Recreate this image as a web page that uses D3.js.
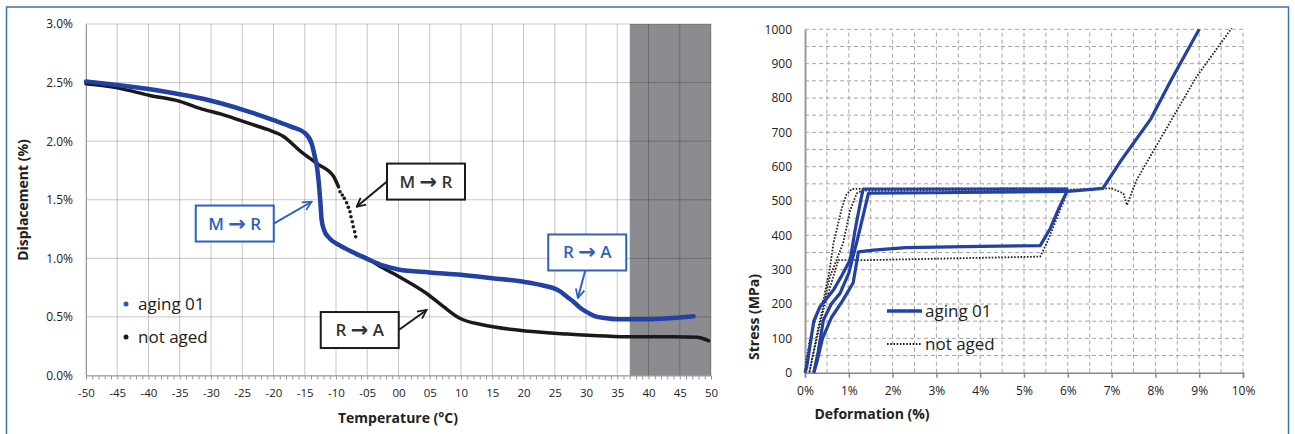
<!DOCTYPE html>
<html>
<head>
<meta charset="utf-8">
<script src="https://cdn.jsdelivr.net/npm/d3@7"></script>
<style>
    body { margin: 0; background: #fff; }
    svg { display: block; font-family: 'Open Sans', sans-serif; }
</style>
</head>
<body>
<div id="chart"></div>
<script>
// ---- left panel: displacement vs temperature ----
const tempTicks = d3.range(-50, 51, 5);
const tempMinorTicks = d3.range(-50, 51, 1);
const displacementTicks = [0, 0.5, 1, 1.5, 2, 2.5, 3];
const shadedRange = [37, 50];

// [temperature °C, displacement %]
const aging01Displacement = [
    [-50, 2.51], [-45, 2.48], [-40, 2.445], [-35, 2.4], [-30, 2.345], [-25, 2.27],
    [-20, 2.18], [-17, 2.12], [-15, 2.07], [-13.9, 1.98], [-13.4, 1.87], [-13.1, 1.8],
    [-12.8, 1.67], [-12.5, 1.48], [-12.3, 1.33], [-11.9, 1.24], [-11.2, 1.18], [-9.4, 1.11],
    [-7.2, 1.05], [-4.6, 0.985], [-2.4, 0.937], [0, 0.905], [5, 0.88], [10, 0.86],
    [15, 0.83], [20, 0.8], [23, 0.77], [25.8, 0.72], [27, 0.67], [28, 0.63], [29, 0.58],
    [30, 0.545], [31.5, 0.505], [33, 0.49], [35, 0.48], [38, 0.48], [42, 0.485],
    [45, 0.495], [47.2, 0.505]
];
const notAgedDisplacement = [
    [-50, 2.49], [-45, 2.455], [-39.8, 2.39], [-35, 2.34], [-31.8, 2.28], [-28, 2.225],
    [-23.8, 2.15], [-21, 2.1], [-18.4, 2.04], [-15.8, 1.92], [-13.1, 1.81], [-10.4, 1.7],
    [-9.6, 1.61]
];
const notAgedSparse = [
    [-9.36, 1.568], [-9.0, 1.54], [-8.67, 1.512], [-8.3, 1.474], [-8.03, 1.435],
    [-7.76, 1.398], [-7.6, 1.355], [-7.39, 1.312], [-7.23, 1.27], [-7.01, 1.227], [-6.85, 1.184]
];
const notAgedDisplacementHigh = [
    [-6.7, 1.03], [-6.2, 1.025], [-2.4, 0.915], [0.2, 0.84], [4.5, 0.7], [7.2, 0.587],
    [9.8, 0.488], [13.6, 0.431], [19, 0.388], [27, 0.354], [37.6, 0.33], [44, 0.33],
    [47.8, 0.326], [49.6, 0.297]
];

const transitions = [
    { from: 'M', to: 'R', blue: true, box: [-26.2, 1.297], tip: [-13.9, 1.483], side: 'right' },
    { from: 'M', to: 'R', blue: false, box: [4.4, 1.655], tip: [-6.7, 1.44], side: 'left' },
    { from: 'R', to: 'A', blue: false, box: [-6.2, 0.388], tip: [4.5, 0.559], side: 'right' },
    { from: 'R', to: 'A', blue: true, box: [30.2, 1.05], tip: [28.7, 0.661], side: 'bottom' }
];

// ---- right panel: stress vs deformation ----
const strainTicks = d3.range(0, 11, 1);
const strainGrid = d3.range(0.5, 10.01, 0.5);
const stressTicks = d3.range(0, 1001, 100);
const stressGrid = d3.range(50, 1001, 50);

// [deformation %, stress MPa]
const aging01Load = [
    [0, 0], [0.04, 17], [0.2, 150], [0.34, 192], [0.65, 241], [0.85, 285], [1.03, 328],
    [1.15, 420], [1.29, 513], [1.33, 535], [6.0, 535]
];
const aging01Unload = [
    [6.0, 533], [5.8, 480], [5.6, 420], [5.37, 370], [4, 368], [2.3, 364], [1.56, 357],
    [1.22, 352], [1.1, 262], [0.87, 212], [0.6, 160], [0.4, 100], [0.27, 30], [0.2, 0]
];
const aging01Reload = [
    [0.2, 0], [0.3, 60], [0.42, 153], [0.6, 200], [0.8, 231], [1.0, 290], [1.2, 390],
    [1.45, 523], [3, 524], [6.0, 528], [6.8, 537], [7.2, 615], [7.9, 740], [8.35, 850], [9.0, 1000]
];
const notAgedLoad = [
    [0, 0], [0.02, 30], [0.11, 95], [0.25, 160], [0.42, 212], [0.55, 290], [0.65, 377],
    [0.84, 479], [0.95, 520], [1.07, 535], [6.0, 537]
];
const notAgedUnload = [
    [6.0, 530], [5.52, 377], [5.37, 338], [3, 332], [1.5, 328], [0.76, 328], [0.6, 260],
    [0.42, 183], [0.2, 60], [0.11, 8], [0.1, 0]
];
const notAgedReload = [
    [0.1, 0], [0.3, 130], [0.57, 280], [0.87, 377], [1.03, 473], [1.18, 522], [1.3, 530],
    [6, 533], [7.0, 537], [7.27, 522], [7.35, 488], [7.57, 561], [8.1, 678], [8.94, 862], [9.74, 1003]
];

const BLUE = '#2241a3';
const LABEL_BLUE = '#2c62bd';

function layout() {
    const svg = d3.select('#chart')
        .append('svg')
        .attr('width', 1295)
        .attr('height', 434);

    svg.append('rect')
        .attr('width', 1295)
        .attr('height', 434)
        .attr('fill', '#fff');

    //frame
    svg.append('rect')
        .attr('x', 6.5)
        .attr('y', 7)
        .attr('width', 1282)
        .attr('height', 440)
        .attr('fill', 'none')
        .attr('stroke', '#3a74b0')
        .attr('stroke-width', 1.5);

    return svg;
}

function drawLeft(svg) {
    const box = { left: 86, right: 711, top: 24, bottom: 375.5 };
    const x = d3.scaleLinear().domain([-50, 50]).range([box.left, box.right]);
    const y = d3.scaleLinear().domain([0, 3]).range([box.bottom, box.top]);
    const g = svg.append('g');

    //shaded zone
    g.append('rect')
        .attr('x', x(shadedRange[0]))
        .attr('y', y(3))
        .attr('width', x(shadedRange[1]) - x(shadedRange[0]))
        .attr('height', y(0) - y(3))
        .attr('fill', '#8c8c90');

    //grid lines
    g.append('g')
        .selectAll('line')
        .data(tempTicks)
        .join('line')
        .attr('x1', d => x(d)).attr('x2', d => x(d))
        .attr('y1', y(0)).attr('y2', y(3))
        .attr('stroke', '#000').attr('stroke-opacity', 0.22);
    g.append('g')
        .selectAll('line')
        .data(displacementTicks)
        .join('line')
        .attr('x1', x(-50)).attr('x2', x(50))
        .attr('y1', d => y(d)).attr('y2', d => y(d))
        .attr('stroke', '#000').attr('stroke-opacity', 0.22);

    //axes
    const minor = g.append('g')
        .attr('transform', `translate(0,${box.bottom})`)
        .call(d3.axisBottom(x).tickValues(tempMinorTicks).tickSize(4).tickFormat(''));
    minor.selectAll('line, path').attr('stroke', '#999');

    const xAxis = g.append('g')
        .attr('transform', `translate(0,${box.bottom})`)
        .call(d3.axisBottom(x).tickValues(tempTicks).tickSize(0).tickPadding(13)
            .tickFormat(d => (d < 0 ? '-' : '') + String(Math.abs(d)).padStart(2, '0')));
    xAxis.select('.domain').remove();
    xAxis.selectAll('text').attr('font-size', 11.5).attr('fill', '#222')
        .attr('font-family', 'Open Sans');

    const yAxis = g.append('g')
        .attr('transform', `translate(${box.left},0)`)
        .call(d3.axisLeft(y).tickValues(displacementTicks).tickSize(0).tickPadding(13)
            .tickFormat(d => d.toFixed(1) + '%'));
    yAxis.select('.domain').attr('stroke', '#999');
    yAxis.selectAll('text').attr('font-size', 12).attr('fill', '#222')
        .attr('font-family', 'Open Sans');

    //labels
    g.append('text')
        .attr('x', 398).attr('y', 423)
        .attr('text-anchor', 'middle')
        .attr('font-size', 14).attr('font-weight', 'bold').attr('fill', '#222')
        .text('Temperature (°C)');
    g.append('text')
        .attr('transform', 'rotate(-90)')
        .attr('x', -200).attr('y', 28)
        .attr('text-anchor', 'middle')
        .attr('font-size', 14).attr('font-weight', 'bold').attr('fill', '#222')
        .text('Displacement (%)');

    //series
    const line = d3.line()
        .x(d => x(d[0]))
        .y(d => y(d[1]))
        .curve(d3.curveMonotoneX);

    [notAgedDisplacement, notAgedDisplacementHigh].forEach(data => {
        g.append('path')
            .datum(data)
            .attr('d', line)
            .attr('fill', 'none')
            .attr('stroke', '#1a1a1a')
            .attr('stroke-width', 3.5)
            .attr('stroke-linecap', 'round');
    });
    g.append('g')
        .selectAll('circle')
        .data(notAgedSparse)
        .join('circle')
        .attr('cx', d => x(d[0]))
        .attr('cy', d => y(d[1]))
        .attr('r', 1.8)
        .attr('fill', '#1a1a1a');

    g.append('path')
        .datum(aging01Displacement)
        .attr('d', line)
        .attr('fill', 'none')
        .attr('stroke', BLUE)
        .attr('stroke-width', 4.5)
        .attr('stroke-linecap', 'round');

    //legend
    const legend = [
        { label: 'aging 01', color: '#2a55c0', y: 304 },
        { label: 'not aged', color: '#1a1a1a', y: 337 }
    ];
    legend.forEach(item => {
        g.append('circle')
            .attr('cx', 126).attr('cy', item.y).attr('r', 2.5)
            .attr('fill', item.color);
        g.append('text')
            .attr('x', 138).attr('y', item.y + 6)
            .attr('font-size', 17).attr('fill', '#222')
            .text(item.label);
    });

    //transition notes
    const defs = svg.append('defs');
    ['blue', 'black'].forEach(name => {
        defs.append('marker')
            .attr('id', `arrow-${name}`)
            .attr('viewBox', '0 0 10 10')
            .attr('refX', 9).attr('refY', 5)
            .attr('markerWidth', 11).attr('markerHeight', 11)
            .attr('markerUnits', 'userSpaceOnUse')
            .attr('orient', 'auto')
            .append('path')
            .attr('d', 'M1,1 L9,5 L1,9')
            .attr('fill', 'none')
            .attr('stroke', name === 'blue' ? LABEL_BLUE : '#1a1a1a')
            .attr('stroke-width', 1.6);
    });

    transitions.forEach(t => {
        const color = t.blue ? LABEL_BLUE : '#1a1a1a';
        const w = 78;
        const h = 36;
        const cx = x(t.box[0]);
        const cy = y(t.box[1]);
        const start = {
            right: [cx + w / 2, cy],
            left: [cx - w / 2, cy],
            bottom: [cx - 2, cy + h / 2]
        }[t.side];

        g.append('line')
            .attr('x1', start[0]).attr('y1', start[1])
            .attr('x2', x(t.tip[0])).attr('y2', y(t.tip[1]))
            .attr('stroke', color).attr('stroke-width', 2)
            .attr('marker-end', `url(#arrow-${t.blue ? 'blue' : 'black'})`);
        g.append('rect')
            .attr('x', cx - w / 2).attr('y', cy - h / 2)
            .attr('width', w).attr('height', h)
            .attr('fill', '#fff')
            .attr('stroke', color).attr('stroke-width', 2);
        const text = g.append('text')
            .attr('x', cx).attr('y', cy + 6)
            .attr('text-anchor', 'middle')
            .attr('font-size', 17).attr('font-weight', 600)
            .attr('fill', t.blue ? LABEL_BLUE : '#333');
        text.append('tspan').text(t.from + ' ');
        text.append('tspan')
            .attr('font-family', 'DejaVu Sans')
            .attr('font-weight', 'bold')
            .attr('font-size', 21)
            .attr('dy', 1)
            .text('→');
        text.append('tspan').attr('dy', -1).text(' ' + t.to);
    });
}

function drawRight(svg) {
    const box = { left: 805, right: 1243, top: 29.3, bottom: 372.7 };
    const x = d3.scaleLinear().domain([0, 10]).range([box.left, box.right]);
    const y = d3.scaleLinear().domain([0, 1000]).range([box.bottom, box.top]);
    const g = svg.append('g');

    //grid lines
    g.append('g')
        .selectAll('line')
        .data(strainGrid)
        .join('line')
        .attr('x1', d => x(d)).attr('x2', d => x(d))
        .attr('y1', y(0)).attr('y2', y(1000))
        .attr('stroke', '#a5a5a5').attr('stroke-dasharray', '4,3');
    g.append('g')
        .selectAll('line')
        .data(stressGrid)
        .join('line')
        .attr('x1', x(0)).attr('x2', x(10))
        .attr('y1', d => y(d)).attr('y2', d => y(d))
        .attr('stroke', '#a5a5a5').attr('stroke-dasharray', '4,3');

    //axes
    const xAxis = g.append('g')
        .attr('transform', `translate(0,${box.bottom})`)
        .call(d3.axisBottom(x).tickValues(strainTicks).tickSize(5).tickPadding(9)
            .tickFormat(d => d + '%'));
    xAxis.selectAll('line, .domain').attr('stroke', '#888').attr('stroke-width', 1.5);
    xAxis.selectAll('text').attr('font-size', 12).attr('fill', '#222')
        .attr('font-family', 'Open Sans');

    const yAxis = g.append('g')
        .attr('transform', `translate(${box.left},0)`)
        .call(d3.axisLeft(y).tickValues(stressTicks).tickSize(0).tickPadding(13)
            .tickFormat(d3.format('d')));
    yAxis.select('.domain').attr('stroke', '#999').attr('stroke-width', 2);
    yAxis.selectAll('text').attr('font-size', 12).attr('fill', '#222')
        .attr('font-family', 'Open Sans');

    //labels
    g.append('text')
        .attr('x', 872).attr('y', 419)
        .attr('text-anchor', 'middle')
        .attr('font-size', 14).attr('font-weight', 'bold').attr('fill', '#222')
        .text('Deformation (%)');
    g.append('text')
        .attr('transform', 'rotate(-90)')
        .attr('x', -317).attr('y', 759)
        .attr('text-anchor', 'middle')
        .attr('font-size', 14).attr('font-weight', 'bold').attr('fill', '#222')
        .text('Stress (MPa)');

    //series
    const line = d3.line()
        .x(d => x(d[0]))
        .y(d => y(d[1]));

    [notAgedLoad, notAgedUnload, notAgedReload].forEach(data => {
        g.append('path')
            .datum(data)
            .attr('d', line)
            .attr('fill', 'none')
            .attr('stroke', '#222')
            .attr('stroke-width', 1.8)
            .attr('stroke-dasharray', '1.6,1.6');
    });
    [aging01Load, aging01Unload, aging01Reload].forEach(data => {
        g.append('path')
            .datum(data)
            .attr('d', line)
            .attr('fill', 'none')
            .attr('stroke', BLUE)
            .attr('stroke-width', 3.2)
            .attr('stroke-linejoin', 'round');
    });

    //legend
    g.append('line')
        .attr('x1', 887).attr('x2', 922).attr('y1', 311).attr('y2', 311)
        .attr('stroke', BLUE).attr('stroke-width', 3.5);
    g.append('text')
        .attr('x', 925).attr('y', 317)
        .attr('font-size', 17).attr('fill', '#222')
        .text('aging 01');
    g.append('line')
        .attr('x1', 887).attr('x2', 922).attr('y1', 344).attr('y2', 344)
        .attr('stroke', '#222').attr('stroke-width', 1.8).attr('stroke-dasharray', '1.6,1.6');
    g.append('text')
        .attr('x', 925).attr('y', 350)
        .attr('font-size', 17).attr('fill', '#222')
        .text('not aged');
}

const svg = layout();
drawLeft(svg);
drawRight(svg);
</script>
</body>
</html>
